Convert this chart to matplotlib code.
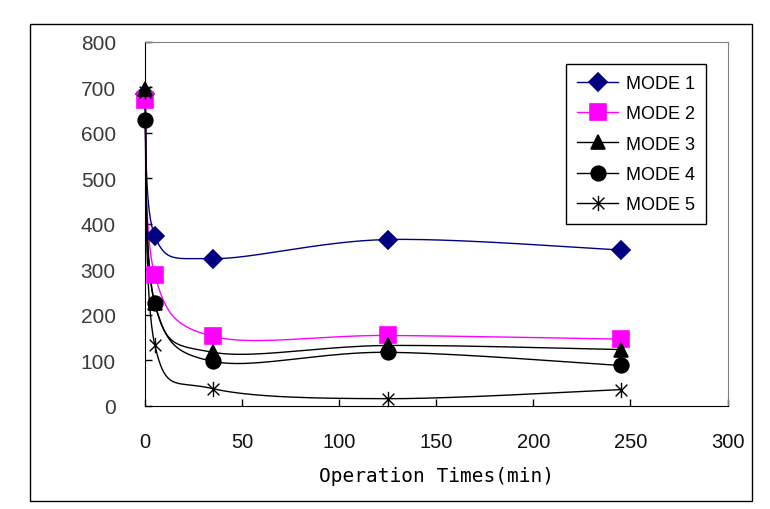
import numpy as np
import matplotlib.pyplot as plt
from matplotlib.patches import Rectangle
from matplotlib.lines import Line2D
from matplotlib.path import Path

# data
times = [0, 5, 35, 125, 245]
mode1 = [685, 373, 323, 365, 342]
mode2 = [672, 287, 152, 154, 146]
mode3 = [697, 225, 117, 132, 123]
mode4 = [627, 225, 97, 117, 88]
mode5 = [690, 134, 37, 15, 35]
labels = ["MODE 1", "MODE 2", "MODE 3", "MODE 4", "MODE 5"]

# asterisk: an X with a vertical stroke
star = Path([(-1, -1), (1, 1), (-1, 1), (1, -1), (0, -1.3), (0, 1.3)],
            [Path.MOVETO, Path.LINETO, Path.MOVETO, Path.LINETO, Path.MOVETO, Path.LINETO])

colors = ["#000080", "#FF00FF", "black", "black", "black"]
markers = ["D", "s", "^", "o", star]
msizes = [9, 11, 10, 10.5, 11]
mews = [1.2, 1.2, 1.2, 1.2, 1.0]

# px per data unit, so the smoothing happens in screen-like space
SX, SY = 1.94, 0.455


def smooth(x, y, n=40):
    # bezier smoothing like the spreadsheet does it
    p = np.column_stack([np.array(x) * SX, np.array(y) * SY]).astype(float)
    pts = np.vstack([p[0], p, p[-1]])
    out = []
    for i in range(1, len(pts) - 2):
        p0, p1, p2, p3 = pts[i - 1], pts[i], pts[i + 1], pts[i + 2]
        c1 = p1 + (p2 - p0) / 6
        c2 = p2 - (p3 - p1) / 6
        t = np.linspace(0, 1, n)[:, None]
        seg = (1 - t) ** 3 * p1 + 3 * (1 - t) ** 2 * t * c1 + 3 * (1 - t) * t ** 2 * c2 + t ** 3 * p2
        out.append(seg if i == 1 else seg[1:])
    out = np.vstack(out)
    return out[:, 0] / SX, out[:, 1] / SY


fig = plt.figure(figsize=(7.7, 5.1), dpi=100)
fig.patches.append(Rectangle((30 / 770, 8 / 510), 722 / 770, 477 / 510,
                             transform=fig.transFigure, fill=False,
                             edgecolor="black", lw=1))
ax = fig.add_axes([145 / 770, 103.5 / 510, 582.5 / 770, 363.8 / 510])

series = [mode1, mode2, mode3, mode4, mode5]
handles = []
for vals, c, m, ms, mw in zip(series, colors, markers, msizes, mews):
    sx, sy = smooth(times, vals)
    ax.plot(sx, sy, color=c, lw=1, zorder=2, clip_on=False)
    ax.plot(times, vals, ls="none", marker=m, ms=ms, color=c, mec=c,
            mew=mw, zorder=3, clip_on=False)
    handles.append(Line2D([], [], color=c, lw=1, marker=m, ms=ms, mec=c, mew=mw))

ax.set_xlim(0, 300)
ax.set_ylim(0, 800)
ax.set_xticks(range(0, 301, 50))
ax.set_yticks(range(0, 801, 100))
ax.tick_params(direction="in", length=5, width=1)
ax.tick_params(axis="x", pad=19, labelsize=14.5, labelcolor="#111111")
ax.tick_params(axis="y", pad=21, labelsize=15, labelcolor="#3a3a3a")
for t in ax.get_xticklabels() + ax.get_yticklabels():
    t.set_fontfamily("Liberation Sans")

ax.spines["top"].set_color("#808080")
ax.spines["right"].set_color("#808080")
for s in ["left", "bottom"]:
    ax.spines[s].set_color("black")

ax.set_xlabel("Operation Times(min)", fontfamily="DejaVu Sans Mono",
              fontsize=14, labelpad=11)

leg = ax.legend(handles, labels, loc="upper left",
                bbox_to_anchor=(0.7227, 0.9387), borderaxespad=0,
                fancybox=False, edgecolor="black", framealpha=1,
                prop={"family": "Liberation Sans", "size": 13}, handlelength=2.3,
                labelspacing=0.74, handletextpad=0.45, borderpad=0.6)
leg.get_frame().set_linewidth(1)

fig.savefig("out.png", dpi=100)
